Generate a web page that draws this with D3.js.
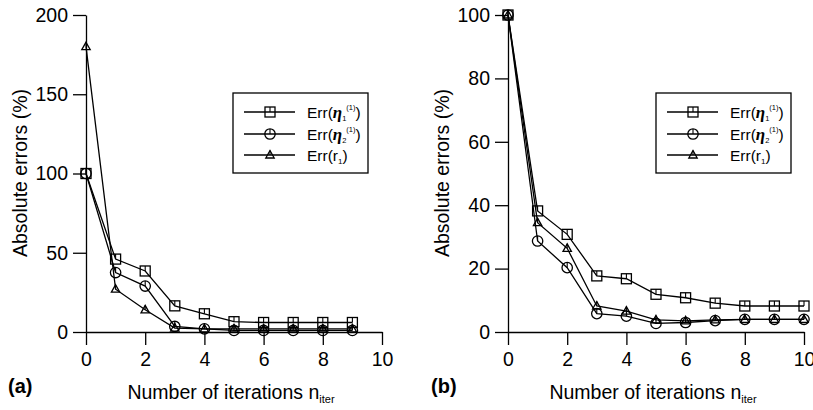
<!DOCTYPE html>
<html>
<head>
<meta charset="utf-8">
<script src="https://cdn.jsdelivr.net/npm/d3@7"></script>
<style>
  body { margin: 0; background: #fff; }
  svg { font-family: "Liberation Sans", Arial, Helvetica, sans-serif; }
  .axis path, .axis line { stroke: #000; stroke-width: 1.3px; }
  .axis text { font-size: 19.5px; fill: #000; }
</style>
</head>
<body>
<div id="chart"></div>
<script>
(function(d3) {
  'use strict';

  // panel (a)
  var iterA = [0, 1, 2, 3, 4, 5, 6, 7, 8, 9];
  var eta1A = [100, 46, 38.5, 16.5, 11.5, 6.5, 6, 6, 6, 6];
  var eta2A = [100, 37.5, 29, 3.5, 2, 1, 1, 1, 1, 1];
  var r1A   = [180, 27, 14, 2.5, 2, 2, 2, 2, 2, 2];
  var yTicksA = [0, 50, 100, 150, 200];

  // panel (b)
  var iterB = [0, 1, 2, 3, 4, 5, 6, 7, 8, 9, 10];
  var eta1B = [100, 38.2, 30.8, 17.7, 16.8, 11.9, 10.8, 9.1, 8.2, 8.2, 8.2];
  var eta2B = [100, 28.7, 20.3, 5.8, 5, 2.7, 3, 3.6, 4, 4, 4];
  var r1B   = [100, 34.5, 26.4, 8.2, 6.6, 3.8, 3.5, 3.8, 4, 4, 4];
  var yTicksB = [0, 20, 40, 60, 80, 100];

  var xTicks = [0, 2, 4, 6, 8, 10];
  var seriesNames = ['eta1', 'eta2', 'r1'];

  var width = 813, height = 410;

  var svg = d3.select('#chart').append('svg')
    .attr('width', width)
    .attr('height', height);

  function marker(g, kind) {
    if (kind === 'eta1') {
      g.append('rect').attr('x', -5).attr('y', -5).attr('width', 10).attr('height', 10)
        .attr('fill', 'none').attr('stroke', '#000').attr('stroke-width', 1.3);
    } else if (kind === 'eta2') {
      g.append('circle').attr('r', 5.2)
        .attr('fill', 'none').attr('stroke', '#000').attr('stroke-width', 1.3);
    } else {
      g.append('path').attr('d', 'M0,-4.5L4.2,3L-4.2,3Z')
        .attr('fill', 'none').attr('stroke', '#000').attr('stroke-width', 1.3);
    }
    var top = kind === 'r1' ? -4.5 : -5;
    g.append('line').attr('x1', 0).attr('x2', 0).attr('y1', top).attr('y2', 0)
      .attr('stroke', '#000').attr('stroke-width', 1.1);
  }

  function drawPanel(cfg) {
    var x = d3.scaleLinear().domain([0, 10]).range([cfg.left, cfg.left + 296]);
    var y = d3.scaleLinear().domain([0, cfg.yMax]).range([332, 15]);

    svg.append('g').attr('class', 'axis')
      .attr('transform', 'translate(0,332)')
      .call(d3.axisBottom(x).tickValues(xTicks).tickSize(13).tickSizeOuter(0).tickPadding(7))
      .call(function(g) { g.selectAll('text').attr('font-family', null); });

    svg.append('g').attr('class', 'axis')
      .attr('transform', 'translate(' + cfg.left + ',0)')
      .call(d3.axisLeft(y).tickValues(cfg.yTicks).tickSize(13).tickSizeOuter(0).tickPadding(5));

    svg.selectAll('.axis').attr('font-family', null).attr('font-size', null);

    var line = d3.line()
      .x(function(d) { return x(d[0]); })
      .y(function(d) { return y(d[1]); });

    cfg.series.forEach(function(s, i) {
      var pts = cfg.iter.map(function(v, j) { return [v, s[j]]; });
      svg.append('path').datum(pts)
        .attr('d', line)
        .attr('fill', 'none')
        .attr('stroke', '#000')
        .attr('stroke-width', 1.3);
      pts.forEach(function(p) {
        var g = svg.append('g').attr('transform', 'translate(' + x(p[0]) + ',' + y(p[1]) + ')');
        marker(g, seriesNames[i]);
      });
    });

    // y label
    svg.append('text')
      .attr('transform', 'translate(' + (cfg.left - 59) + ',' + (173) + ') rotate(-90)')
      .attr('text-anchor', 'middle')
      .attr('font-size', 19.5)
      .text('Absolute errors (%)');

    // x label
    var xl = svg.append('text')
      .attr('x', cfg.left + 145)
      .attr('y', 399)
      .attr('text-anchor', 'middle')
      .attr('font-size', 19.5);
    xl.append('tspan').text('Number of iterations n');
    xl.append('tspan').attr('font-size', 11).attr('dy', 4).text('iter');

    // panel letter
    svg.append('text')
      .attr('x', cfg.letterX)
      .attr('y', 393)
      .attr('font-size', 20)
      .attr('font-weight', 'bold')
      .text(cfg.letter);

    // legend
    var lg = svg.append('g').attr('transform', 'translate(' + cfg.legendX + ',93)');
    lg.append('rect').attr('width', 135).attr('height', 80)
      .attr('fill', '#fff').attr('stroke', '#000').attr('stroke-width', 1.3);
    var rows = [19, 41, 62];
    seriesNames.forEach(function(name, i) {
      var row = lg.append('g').attr('transform', 'translate(0,' + rows[i] + ')');
      row.append('line').attr('x1', 11).attr('x2', 62)
        .attr('stroke', '#000').attr('stroke-width', 1.3);
      marker(row.append('g').attr('transform', 'translate(37,0)'), name);
      var t = row.append('text').attr('x', 74).attr('y', 5.5).attr('font-size', 15.5);
      t.append('tspan').text('Err(');
      if (name === 'r1') {
        t.append('tspan').text('r');
        t.append('tspan').attr('font-size', 8).attr('dy', 3).text('1');
        t.append('tspan').attr('dy', -3).text(')');
      } else {
        t.append('tspan').attr('font-family', '"Liberation Serif", serif')
          .attr('font-weight', 'bold').attr('font-style', 'italic')
          .attr('font-size', 17).text('\u03b7');
        t.append('tspan').attr('font-size', 7.5).attr('dy', 3)
          .text(name === 'eta1' ? '1' : '2');
        t.append('tspan').attr('font-size', 7.5).attr('dy', -11).text('(1)');
        t.append('tspan').attr('dy', 8).text(')');
      }
    });
  }

  drawPanel({
    left: 86, yMax: 200, yTicks: yTicksA, iter: iterA,
    series: [eta1A, eta2A, r1A], letter: '(a)', letterX: 8, legendX: 233
  });
  drawPanel({
    left: 508, yMax: 100, yTicks: yTicksB, iter: iterB,
    series: [eta1B, eta2B, r1B], letter: '(b)', letterX: 431, legendX: 656
  });

})(window.d3);
</script>
</body>
</html>
